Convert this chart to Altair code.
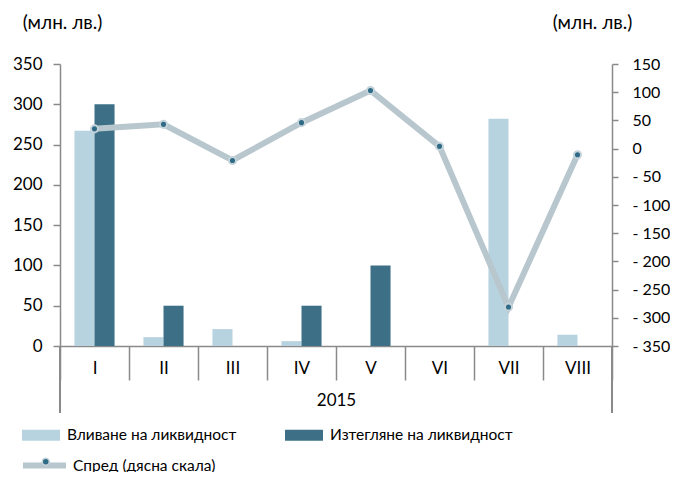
import altair as alt
import pandas as pd

months = ["I", "II", "III", "IV", "V", "VI", "VII", "VIII"]
inflow = [267, 11, 21, 6, 0, 0, 282, 14]
outflow = [300, 50, 0, 50, 100, 0, 0, 0]
spread = [35, 43, -21, 46, 103, 4, -281, -11]
series_names = ["Вливане на ликвидност", "Изтегляне на ликвидност"]
spread_name = "Спред (дясна скала)"
year_label = "2015"
unit_label = "(млн. лв.)"
left_ticks = [0, 50, 100, 150, 200, 250, 300, 350]
right_ticks = [-350, -300, -250, -200, -150, -100, -50, 0, 50, 100, 150]

bars_df = pd.DataFrame({
    "month": months * 2,
    "series": [series_names[0]] * len(months) + [series_names[1]] * len(months),
    "value": inflow + outflow,
})
line_df = pd.DataFrame({"month": months, "spread": spread,
                        "name": [spread_name] * len(months), "pt": ["pt"] * len(months)})

W, H = 552, 282
FONT = "Lato"
GRAY = "#8a8a8a"
LIGHT = "#b7d3df"
DARK = "#3d7086"
LINE = "#b8c7ce"
PT = "#2f6b86"

x_enc = alt.X(
    "month:N", sort=months,
    scale=alt.Scale(paddingInner=0, paddingOuter=0),
    axis=alt.Axis(title=year_label, labelAngle=0, tickBand="extent", tickSize=34,
                  labelPadding=-20, labelBaseline="top", titleY=54, titleBaseline="middle"),
)

bars = alt.Chart(bars_df).mark_bar().encode(
    x=x_enc,
    xOffset=alt.XOffset("series:N", sort=series_names,
                        scale=alt.Scale(paddingInner=0, paddingOuter=0.72)),
    y=alt.Y("value:Q", scale=alt.Scale(domain=[0, 350], nice=False),
            axis=alt.Axis(title=unit_label, values=left_ticks, tickSize=7, labelPadding=11,
                          titleAngle=0, titleX=2, titleY=-42, titleAlign="center",
                          titleBaseline="middle", titleFontSize=19)),
    color=alt.Color("series:N", sort=series_names,
                    scale=alt.Scale(domain=series_names, range=[LIGHT, DARK]),
                    legend=alt.Legend(title=None, orient="none", legendX=-38, legendY=352,
                                      direction="horizontal", columns=2, columnPadding=48,
                                      symbolType="M-1,-0.29L1,-0.29L1,0.29L-1,0.29Z",
                                      symbolSize=1444, symbolStrokeWidth=0, labelOffset=7,
                                      labelLimit=0)),
)

edge_l = alt.Chart(bars_df).mark_rule(color=GRAY, strokeWidth=1.5).encode(
    x=alt.value(0), y=alt.value(H), y2=alt.value(H + 67))
edge_r = alt.Chart(bars_df).mark_rule(color=GRAY, strokeWidth=1.5).encode(
    x=alt.value(W), y=alt.value(H), y2=alt.value(H + 67))

y_right = alt.Y("spread:Q", scale=alt.Scale(domain=[-350, 150], nice=False),
                axis=alt.Axis(orient="right", title=unit_label, values=right_ticks,
                              labelExpr="datum.value < 0 ? '- ' + abs(datum.value) : datum.label",
                              tickSize=6, labelPadding=14, labelAlign="left", labelFontSize=16,
                              titleAngle=0, titleX=-20, titleY=-42, titleAlign="center",
                              titleBaseline="middle", titleFontSize=19))

line = alt.Chart(line_df).mark_line(strokeWidth=6).encode(
    x=alt.X("month:N", sort=months),
    y=y_right,
    stroke=alt.Stroke("name:N", scale=alt.Scale(domain=[spread_name], range=[LINE]),
                      legend=alt.Legend(title=None, orient="none", legendX=-40, legendY=377,
                                        symbolType="stroke", symbolSize=1849,
                                        symbolStrokeWidth=6, labelOffset=4, labelLimit=0)),
)
points = alt.Chart(line_df).mark_circle(size=50, opacity=1, stroke="#c5d3da",
                                        strokeWidth=2).encode(
    x=alt.X("month:N", sort=months),
    y=y_right,
    fill=alt.Fill("pt:N", scale=alt.Scale(domain=["pt"], range=[PT]),
                  legend=alt.Legend(title=None, orient="none", legendX=-22, legendY=390,
                                    symbolType="circle", symbolSize=49,
                                    symbolStrokeColor="#c5d3da", symbolStrokeWidth=1.5,
                                    labelColor="transparent",
                                    labelExpr="' '")),
)

right = alt.layer(line, points)

chart = alt.layer(bars, edge_l, edge_r, right).resolve_scale(y="independent").properties(
    width=W, height=H,
    autosize=alt.AutoSizeParams(type="none"),
    padding={"left": 52, "top": 56, "right": 58, "bottom": 126},
).configure_view(stroke=None).configure_axis(
    labelFont=FONT, titleFont=FONT, labelFontSize=17, titleFontSize=17,
    titleFontWeight="normal", labelColor="black", titleColor="black",
    domainColor=GRAY, tickColor=GRAY, domainWidth=1.5, tickWidth=1.5, grid=False,
).configure_legend(labelFont=FONT, labelFontSize=15.5, labelColor="black")

chart.save("out.html", embed_options={"renderer": "svg", "actions": False})
